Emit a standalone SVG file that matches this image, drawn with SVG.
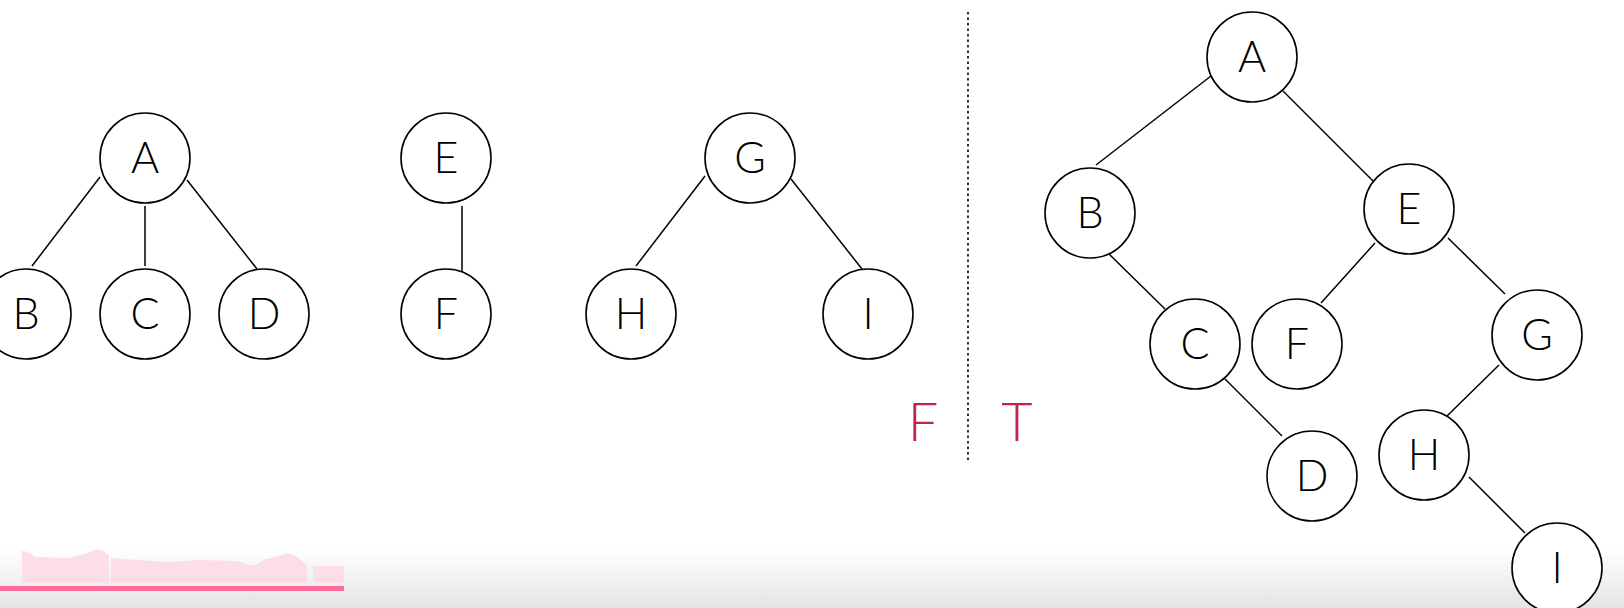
<svg xmlns="http://www.w3.org/2000/svg" width="1624" height="608" viewBox="0 0 1624 608">
<defs>
<style>
.node circle{fill:#fff;stroke:#000;stroke-width:1.6}
.node text{font-family:Lato,"Liberation Sans",Arial,sans-serif;font-weight:300;font-size:43px;fill:#000;text-anchor:middle}
.edges line{stroke:#000;stroke-width:1.5}
.lbl{font-family:Lato,"Liberation Sans",Arial,sans-serif;font-weight:300;font-size:54px;fill:#c0244a;text-anchor:middle}
</style>
<linearGradient id="bg" x1="0" y1="0" x2="0" y2="1">
<stop offset="0" stop-color="#ffffff"/>
<stop offset="1" stop-color="#e4e4e4"/>
</linearGradient>
</defs>
<rect width="1624" height="608" fill="#fff"/>
<rect x="0" y="548" width="1624" height="60" fill="url(#bg)"/>
<g id="progress">
<path d="M22,551 C30,551 33,557 37,557 L67,558 C72,558 75,555 80,555 C90,554 95,548 100,550 C104,551 106,553 109,556 L109,583 L22,583 Z" fill="#fddde6"/>
<path d="M111,558 L167,562 L200,560 L233,561 C243,561 247,566 253,565 C259,565 262,559 267,559 C275,558 283,553 290,554 C297,555 300,560 307,565 L307,583 L111,583 Z" fill="#fddde6"/>
<rect x="313" y="566" width="31" height="17" fill="#fddde6"/>
<rect x="0" y="586" width="344" height="5" fill="#ff6b98"/>
</g>
<line x1="968" y1="12" x2="968" y2="463" stroke="#000" stroke-width="1.6" stroke-dasharray="2.5,3"/>
<text class="lbl" x="923" y="441">F</text>
<text class="lbl" x="1017" y="441">T</text>
<g class="edges" id="connectors">
<line x1="100" y1="177" x2="32" y2="266"/>
<line x1="145" y1="206" x2="145" y2="266"/>
<line x1="187" y1="180" x2="257" y2="269"/>
<line x1="462" y1="206" x2="462" y2="296"/>
<line x1="705" y1="176" x2="636" y2="266"/>
<line x1="791" y1="179" x2="862" y2="269"/>
<line x1="1211" y1="76" x2="1096" y2="165"/>
<line x1="1283" y1="91" x2="1373" y2="181"/>
<line x1="1109" y1="254" x2="1165" y2="309"/>
<line x1="1375" y1="243" x2="1321" y2="303"/>
<line x1="1448" y1="238" x2="1505" y2="294"/>
<line x1="1224" y1="378" x2="1282" y2="436"/>
<line x1="1499" y1="365" x2="1447" y2="416"/>
<line x1="1469" y1="477" x2="1525" y2="533"/>
</g>
<g class="node" id="L_A"><circle cx="145" cy="158" r="45"/><text x="145" y="173">A</text></g>
<g class="node" id="L_B"><circle cx="26" cy="314" r="45"/><text x="26" y="329">B</text></g>
<g class="node" id="L_C"><circle cx="145" cy="314" r="45"/><text x="145" y="329">C</text></g>
<g class="node" id="L_D"><circle cx="264" cy="314" r="45"/><text x="264" y="329">D</text></g>
<g class="node" id="L_E"><circle cx="446" cy="158" r="45"/><text x="446" y="173">E</text></g>
<g class="node" id="L_F"><circle cx="446" cy="314" r="45"/><text x="446" y="329">F</text></g>
<g class="node" id="L_G"><circle cx="750" cy="158" r="45"/><text x="750" y="173">G</text></g>
<g class="node" id="L_H"><circle cx="631" cy="314" r="45"/><text x="631" y="329">H</text></g>
<g class="node" id="L_I"><circle cx="868" cy="314" r="45"/><text x="868" y="329">I</text></g>
<g class="node" id="R_A"><circle cx="1252" cy="57" r="45"/><text x="1252" y="72">A</text></g>
<g class="node" id="R_B"><circle cx="1090" cy="213" r="45"/><text x="1090" y="228">B</text></g>
<g class="node" id="R_E"><circle cx="1409" cy="209" r="45"/><text x="1409" y="224">E</text></g>
<g class="node" id="R_C"><circle cx="1195" cy="344" r="45"/><text x="1195" y="359">C</text></g>
<g class="node" id="R_F"><circle cx="1297" cy="344" r="45"/><text x="1297" y="359">F</text></g>
<g class="node" id="R_G"><circle cx="1537" cy="335" r="45"/><text x="1537" y="350">G</text></g>
<g class="node" id="R_D"><circle cx="1312" cy="476" r="45"/><text x="1312" y="491">D</text></g>
<g class="node" id="R_H"><circle cx="1424" cy="455" r="45"/><text x="1424" y="470">H</text></g>
<g class="node" id="R_I"><circle cx="1557" cy="568" r="45"/><text x="1557" y="583">I</text></g>
</svg>
